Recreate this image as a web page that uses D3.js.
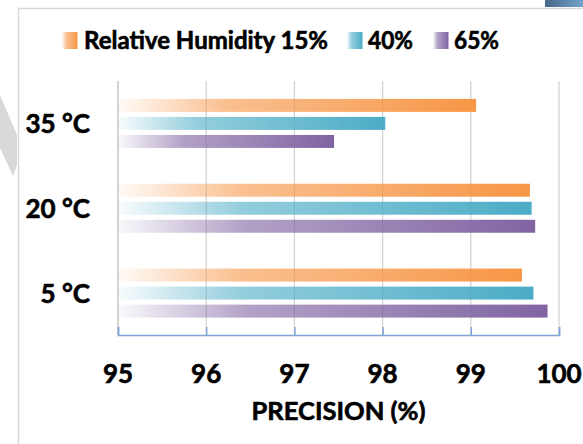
<!DOCTYPE html>
<html>
<head>
<meta charset="utf-8">
<script src="https://cdn.jsdelivr.net/npm/d3@7"></script>
<style>
  html, body { margin: 0; padding: 0; background: #fff; }
  svg { display: block; }
  text { font-family: Lato, "Open Sans", sans-serif; font-weight: bold; fill: #000; stroke: #000; stroke-width: 0.6; }
</style>
</head>
<body>
<svg id="chart" width="583" height="444"></svg>
<script>
const categories = ["35 °C", "20 °C", "5 °C"];
const seriesNames = ["Relative Humidity 15%", "40%", "65%"];
const rh15 = [99.06, 99.67, 99.58];
const rh40 = [98.03, 99.69, 99.71];
const rh65 = [97.45, 99.73, 99.87];
const xTicks = [95, 96, 97, 98, 99, 100];
const colors = ["#f79646", "#4bacc6", "#8064a2"];
const xTitle = "PRECISION (%)";

const series = [rh15, rh40, rh65];
const svg = d3.select("#chart");
const W = 583, H = 444;

// decorations (slide background)
svg.append("polygon")
  .attr("points", "0,95 17,135 17,165 13,176 0,148")
  .attr("fill", "#d9d9d9");
const bg = svg.append("defs");
const blueGrad = bg.append("linearGradient").attr("id", "blueG").attr("x1", 0).attr("x2", 1).attr("y1", 0).attr("y2", 0);
blueGrad.append("stop").attr("offset", 0).attr("stop-color", "#476888");
blueGrad.append("stop").attr("offset", 1).attr("stop-color", "#74a3cc");
svg.append("rect").attr("x", 545).attr("y", 0).attr("width", 38).attr("height", 7).attr("fill", "url(#blueG)");

// chart border
svg.append("path")
  .attr("d", `M18.5,${H} V8.5 H${W}`)
  .attr("fill", "none").attr("stroke", "#d9d9d9").attr("stroke-width", 1.5);

// gradients
colors.forEach((c, i) => {
  const g = bg.append("linearGradient").attr("id", "grad" + i)
    .attr("x1", 0).attr("x2", 1).attr("y1", 0).attr("y2", 0);
  g.append("stop").attr("offset", 0).attr("stop-color", c).attr("stop-opacity", 0.04);
  g.append("stop").attr("offset", 0.3).attr("stop-color", c).attr("stop-opacity", 0.6);
  g.append("stop").attr("offset", 1).attr("stop-color", c).attr("stop-opacity", 1);
});

const x = d3.scaleLinear().domain([95, 100]).range([118, 559]);
const y = d3.scaleBand().domain(categories).range([81, 335.5]).paddingInner(0).paddingOuter(0);
const bw = y.bandwidth();
const yInner = d3.scaleBand().domain(d3.range(series.length))
  .range([bw / 2 - 24.5, bw / 2 + 24.5]).paddingInner(0.28).paddingOuter(0);

// gridlines
svg.append("g").selectAll("line").data(xTicks).join("line")
  .attr("x1", d => x(d)).attr("x2", d => x(d))
  .attr("y1", 81).attr("y2", 335)
  .attr("stroke", "#d0d0d0").attr("stroke-width", d => d === 95 ? 1.8 : 1.2);

// bars
categories.forEach((cat, ci) => {
  series.forEach((s, si) => {
    svg.append("rect")
      .attr("x", x(95))
      .attr("y", y(cat) + yInner(si))
      .attr("width", x(s[ci]) - x(95))
      .attr("height", yInner.bandwidth())
      .attr("fill", `url(#grad${si})`);
  });
});

// bottom axis (blue, ticks inward)
const axis = d3.axisBottom(x).tickValues(xTicks).tickSize(-8).tickFormat("");
const ax = svg.append("g").attr("transform", "translate(0,335)").call(axis);
ax.selectAll("path, line").attr("stroke", "#7fa3d6").attr("stroke-width", 1.5);

// tick labels
svg.append("g").selectAll("text").data(xTicks).join("text")
  .attr("x", d => x(d)).attr("y", 383)
  .attr("text-anchor", "middle").attr("font-size", 26)
  .text(d => d);

// category labels
svg.append("g").selectAll("text").data(categories).join("text")
  .attr("x", 90).attr("y", d => y(d) + bw / 2 + 9.5)
  .attr("text-anchor", "end").attr("font-size", 26)
  .text(d => d);

// x title
svg.append("text").attr("x", x(97.5)).attr("y", 420)
  .attr("text-anchor", "middle").attr("font-size", 24)
  .attr("textLength", 174).attr("lengthAdjust", "spacingAndGlyphs")
  .text(xTitle);

// legend
const legendMarkerX = [62, 347, 433];
const legendTextX = [84, 368, 454];
const legendTextW = [244, 45, 45];
seriesNames.forEach((n, i) => {
  svg.append("rect").attr("x", legendMarkerX[i]).attr("y", 32)
    .attr("width", 15.5).attr("height", 17).attr("fill", `url(#grad${i})`);
  svg.append("text").attr("x", legendTextX[i]).attr("y", 48.5)
    .attr("font-size", 24)
    .attr("textLength", legendTextW[i]).attr("lengthAdjust", "spacingAndGlyphs")
    .text(n);
});
</script>
</body>
</html>
